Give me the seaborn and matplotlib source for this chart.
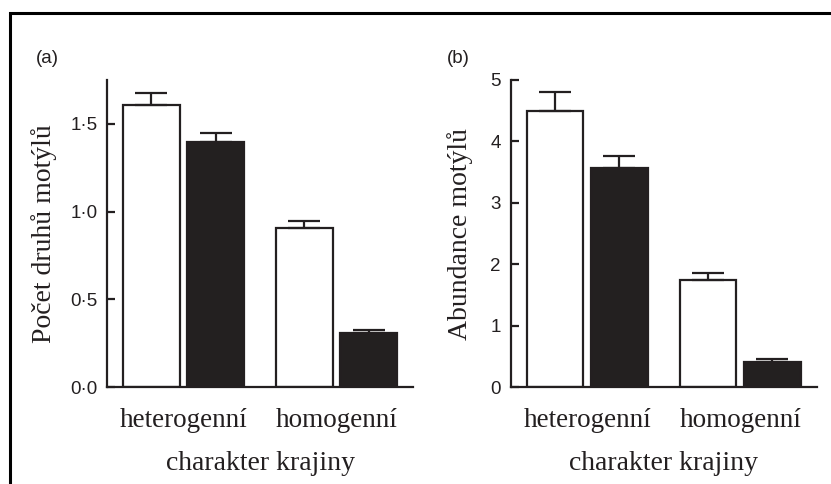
import matplotlib
matplotlib.use("Agg")
import matplotlib.pyplot as plt
import seaborn as sns
import pandas as pd
from matplotlib.ticker import FuncFormatter
from matplotlib.lines import Line2D

# ---- data ----
categories = ["heterogenní", "homogenní"]
groups = ["A", "B"]
species_mean = [1.61, 1.395, 0.905, 0.306]   # het-A, het-B, hom-A, hom-B
species_se = [0.065, 0.053, 0.040, 0.017]
abund_mean = [4.50, 3.56, 1.745, 0.41]
abund_se = [0.30, 0.21, 0.115, 0.038]
yticks_a = [0.0, 0.5, 1.0, 1.5]
yticks_b = [0, 1, 2, 3, 4, 5]
ylabel_a = "Počet druhů motýlů"
ylabel_b = "Abundance motýlů"
xlabel = "charakter krajiny"

INK = "#231f20"
sns.set_theme(style="ticks")
plt.rcParams["font.family"] = ["Liberation Sans", "DejaVu Sans"]

fig = plt.figure(figsize=(8.31, 4.84), dpi=100)
W, H = 831, 484
ax_a = fig.add_axes([107 / W, 1 - 387 / H, 306 / W, 307 / H])
ax_b = fig.add_axes([510.7 / W, 1 - 387 / H, 306 / W, 307 / H])


def make_df(means):
    rows = []
    i = 0
    for c in categories:
        for g in groups:
            rows.append({"krajina": c, "skupina": g, "hodnota": means[i]})
            i += 1
    return pd.DataFrame(rows)


def draw(ax, means, ses, yticks, ymax, ylabel, fmt, label_x):
    df = make_df(means)
    sns.barplot(data=df, x="krajina", y="hodnota", hue="skupina",
                order=categories, hue_order=groups,
                palette={"A": "white", "B": INK}, edgecolor=INK,
                linewidth=1.6, width=0.84, gap=0.12, errorbar=None,
                legend=False, ax=ax)
    patches = sorted(ax.patches, key=lambda p: p.get_x())
    xs = [p.get_x() + p.get_width() / 2 for p in patches]
    hs = [p.get_height() for p in patches]
    ax.errorbar(xs, hs, yerr=[[0] * len(ses), ses], fmt="none",
                ecolor=INK, elinewidth=1.6, capsize=11.5, capthick=1.6,
                zorder=1)
    ax.set_xlim(-0.5, 1.5)
    ax.set_ylim(0, ymax)
    ax.set_yticks(yticks)
    ax.yaxis.set_major_formatter(FuncFormatter(fmt))
    for s in ["top", "right"]:
        ax.spines[s].set_visible(False)
    for s in ["left", "bottom"]:
        ax.spines[s].set_linewidth(1.6)
        ax.spines[s].set_color(INK)
    ax.tick_params(axis="y", direction="in", length=6, width=1.6,
                   color=INK, pad=7, labelsize=13.5, labelcolor=INK)
    ax.tick_params(axis="x", length=0, pad=15)
    for t in ax.get_xticklabels():
        t.set_fontfamily("Liberation Serif")
        t.set_fontsize(19.5)
        t.set_color(INK)
    ax.set_ylabel(ylabel, fontfamily="Liberation Serif", fontsize=20, color=INK)
    ax.set_xlabel(xlabel, fontfamily="Liberation Serif", fontsize=20, color=INK)
    ax.yaxis.set_label_coords(label_x, 0.5)
    ax.xaxis.set_label_coords(0.5, -0.207)
    ax.set_facecolor("white")


draw(ax_a, species_mean, species_se, yticks_a, 1.75, ylabel_a,
     lambda v, p: f"{v:.1f}".replace(".", "·"), -0.165)
draw(ax_b, abund_mean, abund_se, yticks_b, 5.0, ylabel_b,
     lambda v, p: f"{int(round(v))}", -0.122)

fig.text(36 / W, 1 - 63 / H, "(a)", fontsize=13.5, color=INK, va="baseline")
fig.text(447 / W, 1 - 63 / H, "(b)", fontsize=13.5, color=INK, va="baseline")

# frame (top and left edges visible)
fig.add_artist(Line2D([10 / W, 10 / W, 1.0], [0.0, 1 - 13 / H, 1 - 13 / H],
                      transform=fig.transFigure, color="black", linewidth=2.2,
                      solid_joinstyle="miter"))

fig.savefig("out.png", dpi=100, facecolor="white")
